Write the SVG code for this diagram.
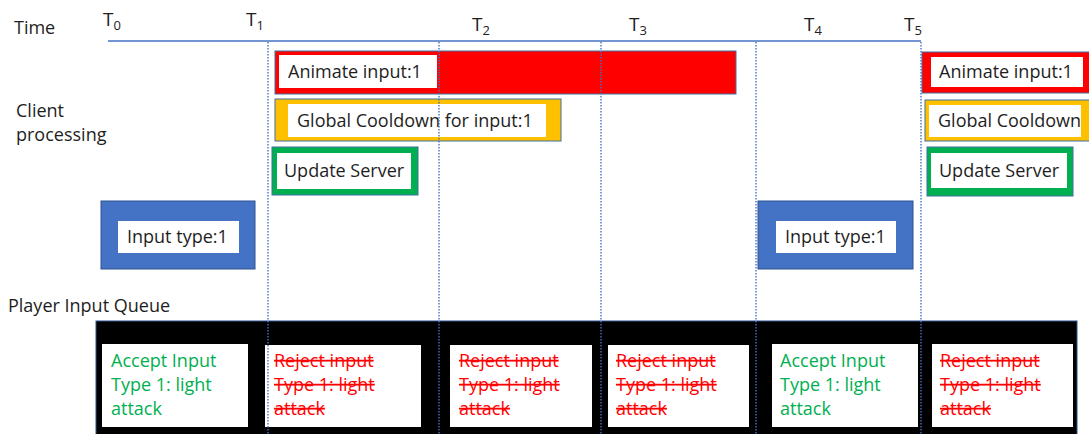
<svg xmlns="http://www.w3.org/2000/svg" width="1089" height="434" viewBox="0 0 1089 434">
<style>
text{font-family:"Open Sans","Liberation Sans",sans-serif;font-size:18px;fill:#1e1e1e}
.tl{font-size:19px}
.sub{font-size:13px}
.box{stroke:#41719C;stroke-width:1}
.in{fill:#ffffff}
.grid{stroke:#4472C4;stroke-width:1.4;stroke-dasharray:1.5 1.5;fill:none}
.acc{fill:#00B050}
.rej{fill:#FF0000;text-decoration:line-through}
</style>
<rect width="1089" height="434" fill="#ffffff"/>
<g id="labels">
<text x="14" y="34">Time</text>
<text x="16" y="117">Client</text>
<text x="16" y="141">processing</text>
<text x="8" y="312">Player Input Queue</text>
</g>
<g id="time-axis">
<line x1="108" y1="41" x2="921" y2="41" stroke="#4472C4" stroke-width="1.5"/>
<text class="tl" x="103" y="26">T<tspan class="sub" dy="4">0</tspan></text>
<text class="tl" x="246" y="26">T<tspan class="sub" dy="4">1</tspan></text>
<text class="tl" x="472" y="31">T<tspan class="sub" dy="4">2</tspan></text>
<text class="tl" x="629" y="31">T<tspan class="sub" dy="4">3</tspan></text>
<text class="tl" x="804" y="31">T<tspan class="sub" dy="4">4</tspan></text>
<text class="tl" x="904" y="31">T<tspan class="sub" dy="4">5</tspan></text>
</g>
<g id="queue">
<rect x="96" y="321" width="981" height="120" fill="#000000" stroke="#2F528F" stroke-width="1"/>
</g>
<g id="cell1"><rect class="in" x="102" y="344" width="146" height="83"/>
<text class="acc" x="111" y="367">Accept Input</text><text class="acc" x="111" y="391">Type 1: light</text><text class="acc" x="111" y="415">attack</text></g>
<g id="cell2"><rect class="in" x="265" y="345" width="156" height="82"/>
<text class="rej" x="274" y="367">Reject input</text><text class="rej" x="274" y="391">Type 1: light</text><text class="rej" x="274" y="415">attack</text></g>
<g id="cell3"><rect class="in" x="450" y="345" width="142" height="82"/>
<text class="rej" x="459" y="367">Reject input</text><text class="rej" x="459" y="391">Type 1: light</text><text class="rej" x="459" y="415">attack</text></g>
<g id="cell4"><rect class="in" x="608" y="345" width="141" height="82"/>
<text class="rej" x="616" y="367">Reject input</text><text class="rej" x="616" y="391">Type 1: light</text><text class="rej" x="616" y="415">attack</text></g>
<g id="cell5"><rect class="in" x="772" y="344" width="146" height="83"/>
<text class="acc" x="780" y="367">Accept Input</text><text class="acc" x="780" y="391">Type 1: light</text><text class="acc" x="780" y="415">attack</text></g>
<g id="cell6"><rect class="in" x="932" y="344" width="141" height="83"/>
<text class="rej" x="940" y="367">Reject input</text><text class="rej" x="940" y="391">Type 1: light</text><text class="rej" x="940" y="415">attack</text></g>
<g id="animate1"><rect class="box" x="275" y="51" width="461" height="43" fill="#FF0000"/>
<rect class="in" x="279" y="55" width="158" height="33"/><text x="288" y="78">Animate input:1</text></g>
<g id="cooldown1"><rect class="box" x="275" y="99" width="286" height="42" fill="#FFC000"/>
<rect class="in" x="288" y="104" width="258" height="33"/><text x="297" y="127">Global Cooldown for input:1</text></g>
<g id="update1"><rect class="box" x="272" y="147" width="146" height="48" fill="#00B050"/>
<rect class="in" x="277" y="153" width="134" height="36"/><text x="284" y="177">Update Server</text></g>
<g id="input1"><rect x="101" y="201" width="154" height="68" fill="#4472C4" stroke="#2F528F" stroke-width="1"/>
<rect class="in" x="118" y="221" width="121" height="32"/><text x="127" y="243">Input type:1</text></g>
<g id="input2"><rect x="758" y="201" width="155" height="68" fill="#4472C4" stroke="#2F528F" stroke-width="1"/>
<rect class="in" x="776" y="221" width="120" height="32"/><text x="785" y="243">Input type:1</text></g>
<g id="animate2"><rect class="box" x="922" y="52" width="175" height="41" fill="#FF0000"/>
<rect class="in" x="931" y="57" width="152" height="30"/><text x="939" y="78">Animate input:1</text></g>
<g id="cooldown2"><rect class="box" x="925" y="100" width="172" height="41" fill="#FFC000"/>
<rect class="in" x="929" y="105" width="152" height="32"/><text x="938" y="127">Global Cooldown</text></g>
<g id="update2"><rect class="box" x="927" y="147" width="146" height="49" fill="#00B050"/>
<rect class="in" x="931" y="153" width="136" height="35"/><text x="939" y="177">Update Server</text></g>
<g id="connectors">
<line class="grid" x1="268" y1="42" x2="268" y2="434"/>
<line class="grid" x1="439" y1="42" x2="439" y2="434"/>
<line class="grid" x1="601" y1="42" x2="601" y2="434"/>
<line class="grid" x1="756" y1="42" x2="756" y2="434"/>
<line class="grid" x1="921" y1="42" x2="921" y2="434"/>
</g>
</svg>
